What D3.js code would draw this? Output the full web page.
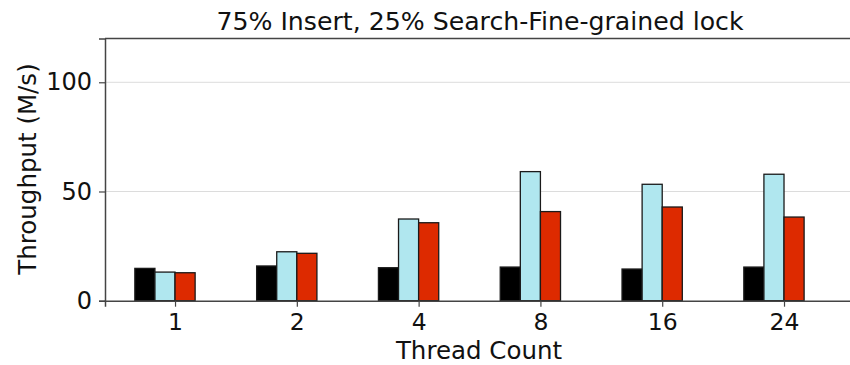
<!DOCTYPE html>
<html><head><meta charset="utf-8">
<script src="https://cdn.jsdelivr.net/npm/d3@7"></script>
<style>body{margin:0;background:#fff}svg{display:block}text{font-family:"DejaVu Sans",sans-serif;fill:#111}</style>
</head><body><svg id="c" width="850" height="365"></svg>
<script>
const categories = ["1","2","4","8","16","24"];
const seriesNames = ["s1","s2","s3","pad"];
const seriesColors = ["#000000","#b0e7ef","#dd2a00","#ffffff"];
const s1 = [14.8,15.9,15.1,15.4,14.5,15.4];
const s2 = [13.1,22.4,37.4,59.1,53.3,57.9];
const s3 = [12.8,21.7,35.7,40.8,42.9,38.3];
const pad = [0,0,0,0,0,0];
const yTicks = [0,50,100];
const title = "75% Insert, 25% Search-Fine-grained lock";
const xLabel = "Thread Count";
const yLabel = "Throughput (M/s)";

const series = [s1,s2,s3,pad];
const svg = d3.select("#c");
const L = 105, R = 870, T = 38.6, B = 300.7;
const x = d3.scaleLinear().domain([-0.575, 5.706]).range([L, R]);
const y = d3.scaleLinear().domain([0,120]).range([B, T]);
const bw = 0.165;
const sub = d3.scaleBand().domain(seriesNames).range([-2*bw, 2*bw]);

svg.append("g").selectAll("line").data(yTicks.filter(d=>d>0)).join("line")
  .attr("x1",L).attr("x2",R).attr("y1",d=>y(d)).attr("y2",d=>y(d))
  .attr("stroke","#dcdcdc").attr("stroke-width",1);

const g = svg.append("g");
categories.forEach((c,i)=>{
  series.forEach((s,j)=>{
    if (seriesNames[j]==="pad") return;
    const x0 = x(i + sub(seriesNames[j])), x1 = x(i + sub(seriesNames[j]) + sub.bandwidth());
    g.append("rect").attr("x",x0).attr("width",x1-x0)
      .attr("y",y(s[i])).attr("height",y(0)-y(s[i]))
      .attr("fill",seriesColors[j]).attr("stroke","#1a1a1a").attr("stroke-width",1.3);
  });
});

const xa = svg.append("g").attr("transform",`translate(0,${B})`)
  .call(d3.axisBottom(x).tickValues(d3.range(categories.length)).tickFormat(i=>categories[i]).tickSize(6).tickPadding(7));
xa.select(".domain").attr("stroke","#444").attr("stroke-width",1.5);
xa.selectAll(".tick line").attr("stroke","#444").attr("stroke-width",1.2);
xa.selectAll("text").style("font-size","23.5px").attr("fill","#111");

const ya = svg.append("g").attr("transform",`translate(${L},0)`)
  .call(d3.axisLeft(y).tickValues(yTicks).tickSize(6).tickPadding(7));
ya.select(".domain").attr("stroke","#444").attr("stroke-width",1.5);
ya.selectAll(".tick line").attr("stroke","#444").attr("stroke-width",1.2);
ya.selectAll("text").style("font-size","24px").attr("fill","#111");

svg.append("line").attr("x1",L).attr("x2",R).attr("y1",T).attr("y2",T).attr("stroke","#444").attr("stroke-width",1.5);

svg.append("text").attr("x",480).attr("y",30).attr("text-anchor","middle").style("font-size","25.2px").text(title);
svg.append("text").attr("x",479).attr("y",359).attr("text-anchor","middle").style("font-size","24.5px").text(xLabel);
svg.append("text").attr("transform","translate(36,169) rotate(-90)").attr("text-anchor","middle").style("font-size","24.5px").text(yLabel);
</script></body></html>
